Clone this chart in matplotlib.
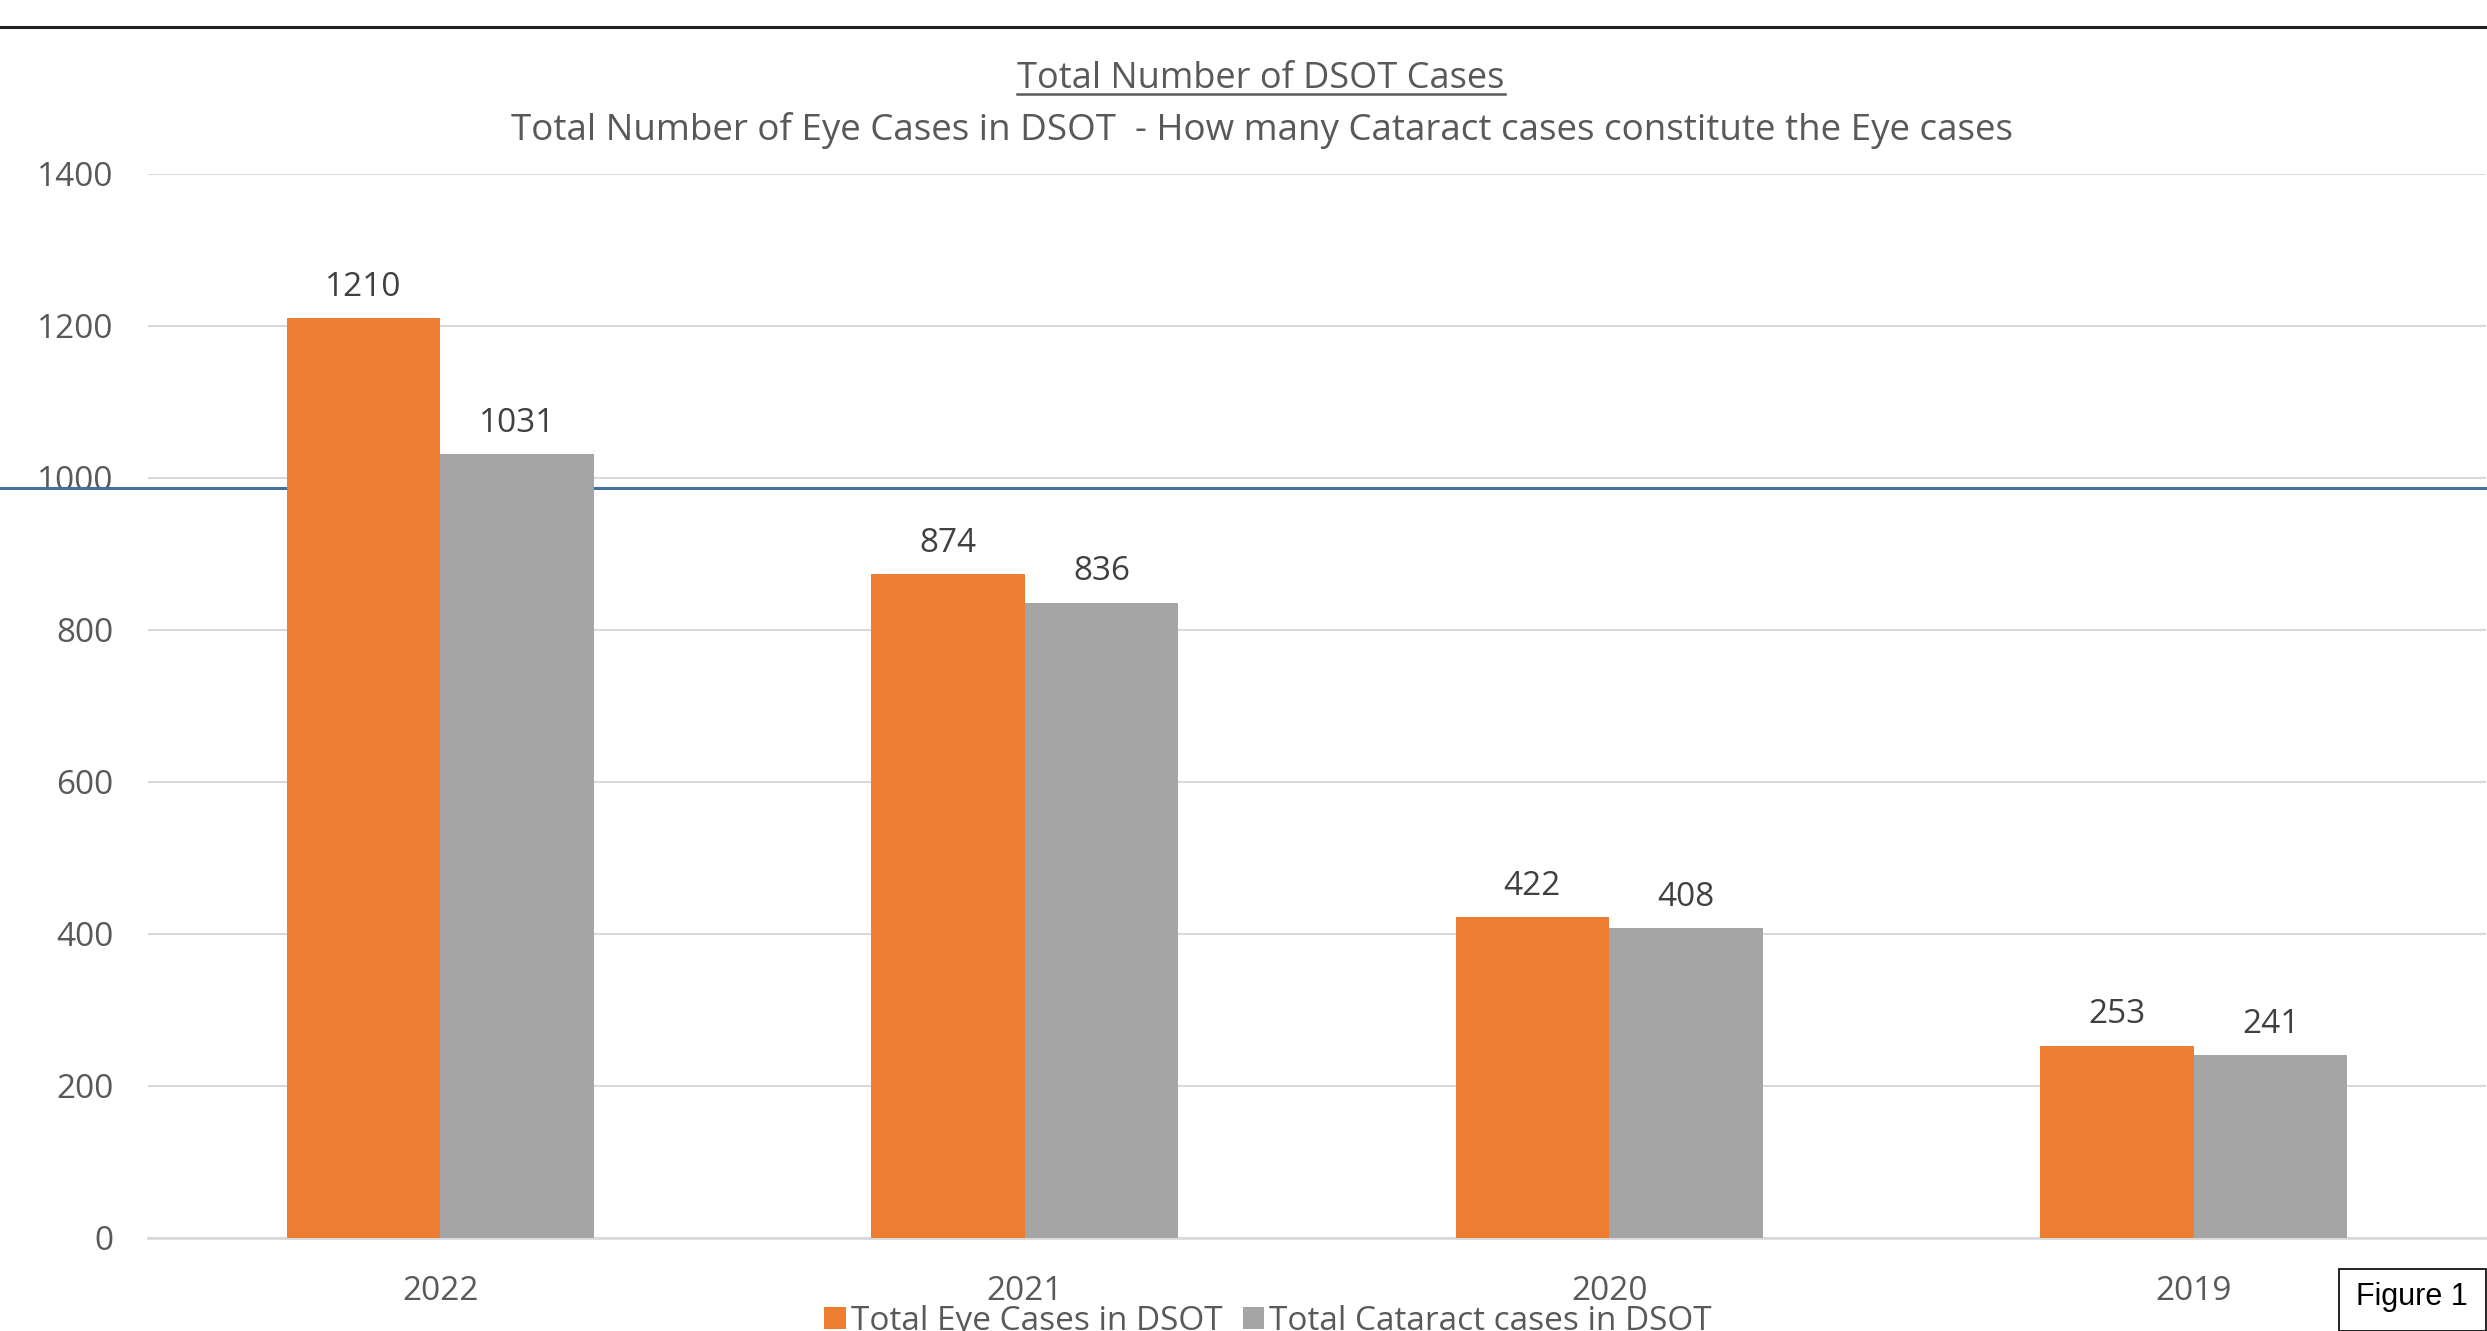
import matplotlib
matplotlib.use("Agg")
import matplotlib.pyplot as plt
from matplotlib.lines import Line2D
from matplotlib.patches import Rectangle
import numpy as np

plt.rcParams['font.family'] = ['Open Sans', 'DejaVu Sans']

years = ['2022', '2021', '2020', '2019']
eye_cases = [1210, 874, 422, 253]
cataract_cases = [1031, 836, 408, 241]
series_names = ['Total Eye Cases in DSOT', 'Total Cataract cases in DSOT']
title = 'Total Number of DSOT Cases'
subtitle = 'Total Number of Eye Cases in DSOT  - How many Cataract cases constitute the Eye cases'
y_ticks = [0, 200, 400, 600, 800, 1000, 1200, 1400]

W, H = 2487, 1331
fig = plt.figure(figsize=(W / 100, H / 100), dpi=100)
ax = fig.add_axes([148 / W, 1 - 1238 / H, (2486 - 148) / W, (1238 - 174) / H])

x = np.arange(len(years))
bw = 0.263
b1 = ax.bar(x - bw / 2, eye_cases, bw, color='#ED7D31', label=series_names[0], zorder=3)
b2 = ax.bar(x + bw / 2, cataract_cases, bw, color='#A5A5A5', label=series_names[1], zorder=3)

for bars in (b1, b2):
    for r in bars:
        ax.annotate(str(int(r.get_height())), (r.get_x() + r.get_width() / 2, r.get_height()),
                    xytext=(0, 16), textcoords='offset points', ha='center', va='baseline',
                    fontsize=24, color='#404040')

ax.set_xlim(-0.5, len(years) - 0.5)
ax.set_ylim(0, 1400)
ax.set_yticks(y_ticks)
ax.set_xticks(x)
ax.set_xticklabels(years)
ax.tick_params(axis='both', length=0, labelsize=24, labelcolor='#595959')
ax.tick_params(axis='y', pad=25)
ax.tick_params(axis='x', pad=27)
ax.yaxis.grid(True, color='#D9D9D9', linewidth=1.5, zorder=0)
ax.set_axisbelow(True)
for s in ['top', 'right', 'left']:
    ax.spines[s].set_visible(False)
ax.spines['bottom'].set_color('#D9D9D9')
ax.spines['bottom'].set_linewidth(2)

# horizontal blue rule across the whole picture, behind the bars
ax.add_line(Line2D([0, 1], [1 - 488 / H, 1 - 488 / H], transform=fig.transFigure,
                   color='#41719C', linewidth=2.2, zorder=2, clip_on=False))

# black rule at the top
fig.add_artist(Line2D([0, 1], [1 - 27 / H, 1 - 27 / H], color='#222222', linewidth=2.2))

t = fig.text(1261 / W, 1 - 88 / H, title, ha='center', va='baseline', fontsize=26, color='#595959')
fig.text(1262 / W, 1 - 140 / H, subtitle, ha='center', va='baseline', fontsize=26.5, color='#595959')

fig.canvas.draw()
bb = t.get_window_extent(fig.canvas.get_renderer())
fig.add_artist(Line2D([bb.x0 / W, bb.x1 / W], [1 - 94 / H, 1 - 94 / H], color='#595959', linewidth=1.8))

fig.legend(handles=[b1, b2], labels=series_names, loc='lower center', bbox_to_anchor=(1268 / W, -0.0175),
           ncol=2, frameon=False, fontsize=24, handlelength=0.65, handleheight=0.65,
           handletextpad=0.15, columnspacing=0.6, borderpad=0, labelcolor='#595959')

fig.add_artist(Rectangle((2339 / W, 1 - 1331 / H), (2486 - 2339) / W, (1331 - 1269) / H,
                         transform=fig.transFigure, facecolor='white', edgecolor='black', linewidth=1.2))
fig.text(2412 / W, 1 - 1297 / H, 'Figure 1', ha='center', va='center', fontsize=22,
         family=['Liberation Sans', 'DejaVu Sans'], color='black')

fig.savefig('out.png', dpi=100)
